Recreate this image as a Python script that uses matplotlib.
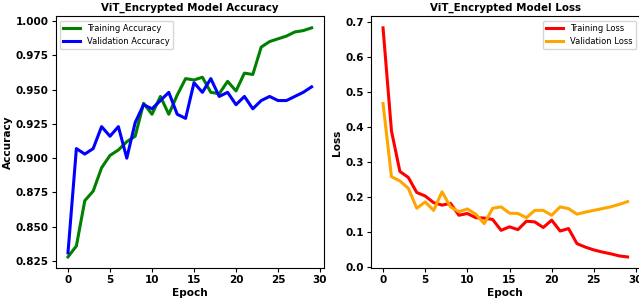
import matplotlib
matplotlib.use("Agg")
import matplotlib.pyplot as plt
import numpy as np

epochs = list(range(30))
train_acc = [0.828, 0.836, 0.869, 0.876, 0.893, 0.902, 0.906, 0.912, 0.916, 0.940,
             0.932, 0.945, 0.932, 0.946, 0.958, 0.957, 0.959, 0.948, 0.947, 0.956,
             0.949, 0.962, 0.961, 0.981, 0.985, 0.987, 0.989, 0.992, 0.993, 0.995]
val_acc = [0.831, 0.907, 0.903, 0.907, 0.923, 0.916, 0.923, 0.900, 0.926, 0.939,
           0.936, 0.942, 0.948, 0.932, 0.929, 0.955, 0.948, 0.958, 0.945, 0.948,
           0.939, 0.945, 0.936, 0.942, 0.945, 0.942, 0.942, 0.945, 0.948, 0.952]
train_loss = [0.682, 0.388, 0.272, 0.255, 0.212, 0.202, 0.183, 0.176, 0.181, 0.147,
              0.152, 0.140, 0.139, 0.135, 0.104, 0.114, 0.106, 0.130, 0.128, 0.112,
              0.133, 0.102, 0.109, 0.066, 0.056, 0.048, 0.042, 0.037, 0.031, 0.028]
val_loss = [0.466, 0.257, 0.245, 0.224, 0.167, 0.185, 0.161, 0.214, 0.171, 0.157,
            0.165, 0.150, 0.123, 0.167, 0.171, 0.153, 0.152, 0.140, 0.161, 0.161,
            0.147, 0.171, 0.166, 0.150, 0.156, 0.161, 0.166, 0.171, 0.178, 0.186]
xticks = [0, 5, 10, 15, 20, 25, 30]
acc_ticks = ['0.825', '0.850', '0.875', '0.900', '0.925', '0.950', '0.975', '1.000']

W, H = 639, 305
fig = plt.figure(figsize=(W / 100, H / 100), dpi=100)
bot = 36.6 / H
hgt = (268.4 - 16.4) / H
ax1 = fig.add_axes([55.8 / W, bot, 268.0 / W, hgt])
ax2 = fig.add_axes([370.8 / W, bot, 269.0 / W, hgt])

lw = 2.2
tfs = 7.4
lfs = 7.6
tickfs = 7.5
legfs = 6

ax1.plot(epochs, train_acc, color='green', lw=lw, label='Training Accuracy')
ax1.plot(epochs, val_acc, color='blue', lw=lw, label='Validation Accuracy')
ax1.set_title('ViT_Encrypted Model Accuracy', fontsize=tfs, fontweight='bold', pad=4)
ax1.set_xlabel('Epoch', fontsize=lfs, fontweight='bold', labelpad=2)
ax1.set_ylabel('Accuracy', fontsize=lfs, fontweight='bold', labelpad=2)
ax1.legend(loc='upper left', fontsize=legfs)

ax2.plot(epochs, train_loss, color='red', lw=lw, label='Training Loss')
ax2.plot(epochs, val_loss, color='orange', lw=lw, label='Validation Loss')
ax2.set_title('ViT_Encrypted Model Loss', fontsize=tfs, fontweight='bold', pad=4)
ax2.set_xlabel('Epoch', fontsize=lfs, fontweight='bold', labelpad=2)
ax2.set_ylabel('Loss', fontsize=lfs, fontweight='bold', labelpad=2)
ax2.legend(loc='upper right', fontsize=legfs)

for ax in (ax1, ax2):
    ax.set_xticks(xticks)
    ax.set_xlim(-1.45, 30.45)
    ax.tick_params(labelsize=tickfs, length=3, pad=2)
ax1.set_yticks([float(t) for t in acc_ticks])
ax1.set_yticklabels(acc_ticks)
for ax in (ax1, ax2):
    for lab in ax.get_xticklabels() + ax.get_yticklabels():
        lab.set_fontweight('bold')

fig.savefig('out.png', dpi=100)
